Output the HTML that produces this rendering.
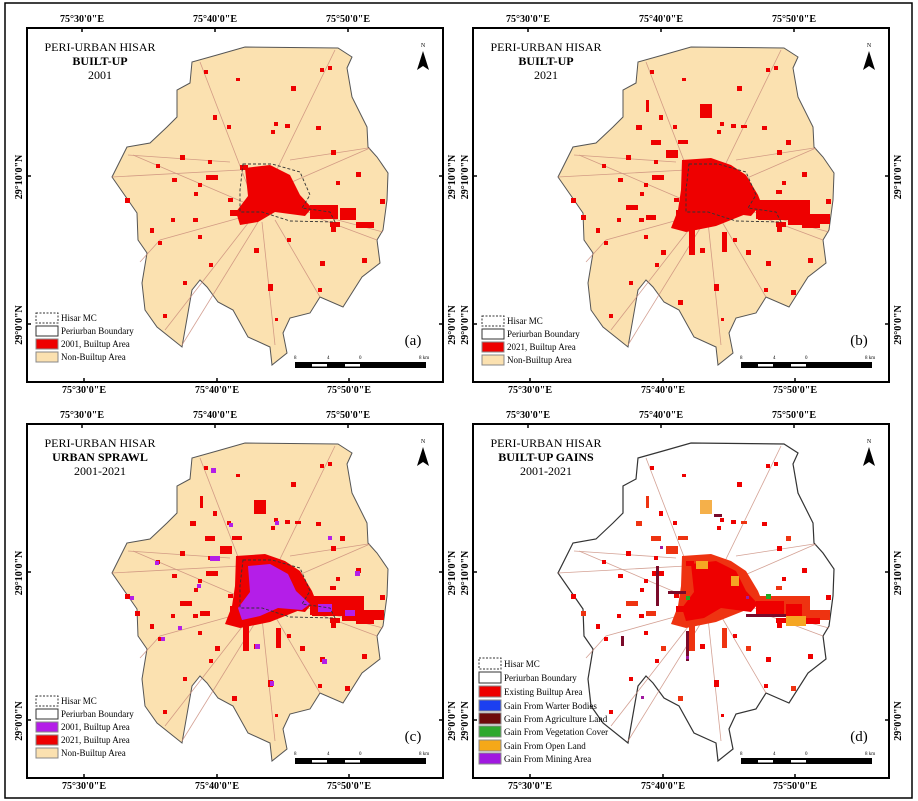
<!DOCTYPE html>
<html><head><meta charset="utf-8"><style>
html,body{margin:0;padding:0;background:#fff}
svg{display:block}
text{font-family:"Liberation Serif",serif}
</style></head><body>
<svg width="918" height="801" viewBox="0 0 918 801" xmlns="http://www.w3.org/2000/svg">
<defs>
<path id="shape" d="M245,47 L338,48 L352,57 L347,68 L352,97 L367,127 L368,147 L377,157 L388,173 L387,200 L383,230 L377,240 L380,263 L362,277 L343,307 L320,297 L310,313 L290,318 L283,333 L287,353 L272,365 L270,347 L248,337 L233,310 L218,302 L207,287 L200,280 L192,290 L182,347 L157,327 L145,310 L142,283 L147,253 L138,240 L137,213 L128,200 L112,177 L127,147 L150,143 L167,127 L177,117 L177,90 L190,83 L192,62 L217,55 Z"/>
<g id="roads" stroke="#c98a7a" stroke-width="0.8" fill="none" opacity="0.8">
<path d="M255,205 L200,62"/><path d="M262,200 L335,50"/><path d="M250,205 L133,155"/><path d="M240,170 L112,177"/><path d="M285,185 L370,148"/><path d="M300,210 L383,232"/><path d="M250,215 L160,240 L140,262"/><path d="M252,218 L165,330"/><path d="M258,222 L182,345"/><path d="M262,222 L275,345"/><path d="M275,220 L320,297"/><path d="M310,215 L377,240"/><path d="M128,155 L230,162"/><path d="M290,160 L368,148"/>
</g>
<path id="mc" d="M243,164 L272,164 L300,172 L310,195 L302,208 L330,212 L335,222 L290,221 L262,212 L240,212 L240,190 Z" fill="none" stroke="#333" stroke-width="0.9" stroke-dasharray="3,2"/>
<g id="b01">
<path d="M245,168 L270,165 L290,175 L300,195 L312,208 L305,216 L275,212 L258,222 L240,225 L236,212 L248,196 Z"/>
<rect x="310" y="205" width="28" height="14"/><rect x="340" y="208" width="16" height="12"/><rect x="356" y="222" width="18" height="6"/><rect x="330" y="222" width="10" height="5"/>
<rect x="204" y="70" width="4" height="4"/><rect x="236" y="78" width="4" height="3"/><rect x="291" y="86" width="5" height="5"/><rect x="320" y="68" width="4" height="4"/><rect x="328" y="66" width="4" height="4"/><rect x="213" y="115" width="4" height="5"/><rect x="227" y="125" width="4" height="4"/><rect x="274" y="122" width="4" height="4"/><rect x="285" y="124" width="5" height="4"/><rect x="316" y="126" width="5" height="4"/><rect x="271" y="130" width="4" height="4"/><rect x="331" y="150" width="5" height="5"/><rect x="180" y="155" width="5" height="5"/><rect x="156" y="164" width="4" height="4"/><rect x="208" y="160" width="4" height="4"/><rect x="356" y="172" width="5" height="5"/><rect x="172" y="178" width="5" height="4"/><rect x="198" y="183" width="4" height="4"/><rect x="336" y="181" width="4" height="4"/><rect x="125" y="198" width="5" height="5"/><rect x="194" y="192" width="4" height="4"/><rect x="228" y="198" width="5" height="4"/><rect x="171" y="218" width="4" height="4"/><rect x="193" y="218" width="5" height="4"/><rect x="150" y="228" width="4" height="5"/><rect x="198" y="235" width="4" height="4"/><rect x="158" y="241" width="4" height="4"/><rect x="254" y="248" width="5" height="5"/><rect x="287" y="238" width="4" height="4"/><rect x="209" y="263" width="4" height="4"/><rect x="320" y="261" width="5" height="5"/><rect x="362" y="258" width="5" height="5"/><rect x="268" y="284" width="5" height="7"/><rect x="163" y="314" width="4" height="4"/><rect x="183" y="281" width="4" height="4"/><rect x="318" y="288" width="4" height="4"/><rect x="275" y="318" width="3" height="3"/><rect x="331" y="227" width="5" height="5"/><rect x="380" y="199" width="5" height="5"/><rect x="230" y="210" width="10" height="6"/><rect x="206" y="175" width="12" height="5"/><rect x="240" y="165" width="8" height="5"/>
</g>
<g id="b21">
<rect x="254" y="104" width="12" height="14"/>
<path d="M236,160 L265,158 L285,165 L300,175 L312,195 L316,205 L300,214 L285,220 L270,226 L240,232 L225,228 L232,210 L235,190 Z"/>
<rect x="312" y="200" width="30" height="20"/><rect x="342" y="200" width="22" height="25"/><rect x="364" y="214" width="20" height="10"/>
<rect x="220" y="150" width="12" height="8"/><rect x="205" y="140" width="10" height="5"/><rect x="232" y="140" width="10" height="4"/><rect x="180" y="205" width="12" height="5"/><rect x="200" y="215" width="10" height="5"/><rect x="243" y="230" width="6" height="25"/><rect x="276" y="232" width="5" height="20"/><rect x="190" y="125" width="6" height="5"/><rect x="200" y="100" width="3" height="12"/><rect x="295" y="125" width="6" height="3"/><rect x="268" y="172" width="3" height="3"/><rect x="215" y="250" width="5" height="5"/><rect x="300" y="250" width="5" height="5"/><rect x="135" y="215" width="5" height="5"/><rect x="330" y="190" width="6" height="4"/><rect x="340" y="140" width="5" height="5"/><rect x="345" y="290" width="5" height="5"/><rect x="232" y="300" width="5" height="5"/>
</g>
<g id="purp">
<path d="M248,170 L270,168 L288,178 L296,195 L310,208 L302,214 L278,212 L260,220 L242,224 L238,212 L250,196 Z"/>
<rect x="318" y="208" width="14" height="8"/><rect x="345" y="214" width="10" height="6"/>
<rect x="211" y="72" width="5" height="5"/><rect x="275" y="125" width="4" height="4"/><rect x="229" y="127" width="4" height="4"/><rect x="328" y="140" width="4" height="4"/><rect x="155" y="165" width="4" height="4"/><rect x="355" y="175" width="5" height="5"/><rect x="197" y="188" width="4" height="4"/><rect x="130" y="200" width="4" height="4"/><rect x="178" y="230" width="4" height="4"/><rect x="255" y="248" width="5" height="5"/><rect x="322" y="263" width="5" height="5"/><rect x="270" y="285" width="4" height="5"/><rect x="161" y="241" width="4" height="4"/><rect x="210" y="160" width="10" height="5"/>
</g>
<g id="gain">
<rect x="250" y="165" width="12" height="8" fill="#f5a623"/><rect x="285" y="180" width="8" height="10" fill="#f5a623"/><rect x="340" y="220" width="20" height="10" fill="#f5a623"/><rect x="254" y="104" width="12" height="14" fill="#f5b04a"/><rect x="320" y="198" width="5" height="5" fill="#22aa22"/><rect x="240" y="200" width="4" height="4" fill="#22aa22"/>
<g fill="#7a0a2a"><rect x="210" y="170" width="3" height="40"/><rect x="222" y="195" width="18" height="3"/><rect x="300" y="218" width="40" height="3"/><rect x="268" y="118" width="8" height="3"/><rect x="240" y="235" width="3" height="30"/><rect x="175" y="240" width="3" height="10"/></g>
<g fill="#a01aa0"><rect x="214" y="150" width="3" height="3"/><rect x="300" y="200" width="3" height="3"/><rect x="240" y="260" width="3" height="3"/><rect x="195" y="300" width="3" height="3"/></g>
</g>
<g id="frame" font-size="10" font-weight="bold">
<rect x="27" y="28" width="416" height="354" fill="none" stroke="#000" stroke-width="2"/>
<text x="82" y="22" text-anchor="middle">75°30'0"E</text><text x="215" y="22" text-anchor="middle">75°40'0"E</text><text x="348" y="22" text-anchor="middle">75°50'0"E</text>
<text x="84" y="393" text-anchor="middle">75°30'0"E</text><text x="217" y="393" text-anchor="middle">75°40'0"E</text><text x="349" y="393" text-anchor="middle">75°50'0"E</text>
<text transform="translate(22,177) rotate(-90)" text-anchor="middle">29°10'0"N</text><text transform="translate(22,325) rotate(-90)" text-anchor="middle">29°0'0"N</text>
<text transform="translate(455,177) rotate(-90)" text-anchor="middle">29°10'0"N</text><text transform="translate(455,325) rotate(-90)" text-anchor="middle">29°0'0"N</text>
<g stroke="#000" stroke-width="1.5"><line x1="82" y1="28" x2="82" y2="32"/><line x1="215" y1="28" x2="215" y2="32"/><line x1="348" y1="28" x2="348" y2="32"/><line x1="84" y1="378" x2="84" y2="382"/><line x1="217" y1="378" x2="217" y2="382"/><line x1="349" y1="378" x2="349" y2="382"/><line x1="27" y1="176" x2="31" y2="176"/><line x1="27" y1="324" x2="31" y2="324"/><line x1="439" y1="176" x2="443" y2="176"/><line x1="439" y1="324" x2="443" y2="324"/></g>
<text x="423" y="47" font-size="6" font-weight="normal" text-anchor="middle">N</text>
<path d="M423,51 L417,70 L423,66 L429,70 Z" fill="#000"/>
<rect x="295" y="362" width="131" height="6" fill="#000"/><rect x="312" y="364" width="15" height="2.5" fill="#fff"/><rect x="345" y="364" width="15" height="2.5" fill="#fff"/>
<g font-size="5" font-weight="normal" font-family="Liberation Sans,sans-serif"><text x="294" y="359">8</text><text x="327" y="359">4</text><text x="359" y="359">0</text><text x="419" y="359">8 km</text></g>
</g>
</defs>
<rect x="5" y="3" width="907" height="795" fill="#fff" stroke="#000" stroke-width="1.5"/>

<g>
<use href="#shape" fill="#fbe1b0" stroke="#555" stroke-width="1"/>
<use href="#roads"/><use href="#b01" fill="#ee0000"/><use href="#mc"/>
<use href="#frame"/>
<g text-anchor="middle" font-size="12"><text x="100" y="51">PERI-URBAN HISAR</text><text x="100" y="65" font-weight="bold">BUILT-UP</text><text x="100" y="79">2001</text></g>
<text x="413" y="345" font-size="15" text-anchor="middle">(a)</text>
<g font-size="9"><rect x="36" y="313" width="22" height="10" fill="#fff" stroke="#333" stroke-dasharray="2,1.5"/><text x="61" y="321">Hisar MC</text>
<rect x="36" y="326" width="22" height="10" fill="#fff" stroke="#333"/><text x="61" y="334">Periurban Boundary</text>
<rect x="36" y="339" width="22" height="10" fill="#ee0000" stroke="#888"/><text x="61" y="347">2001, Builtup Area</text>
<rect x="36" y="352" width="22" height="10" fill="#fbe1b0" stroke="#888"/><text x="61" y="360">Non-Builtup Area</text></g>
</g>

<g transform="translate(446,0)">
<use href="#shape" fill="#fbe1b0" stroke="#555" stroke-width="1"/>
<use href="#roads"/><use href="#b01" fill="#ee0000"/><use href="#b21" fill="#ee0000"/><use href="#mc"/>
<use href="#frame"/>
<g text-anchor="middle" font-size="12"><text x="100" y="51">PERI-URBAN HISAR</text><text x="100" y="65" font-weight="bold">BUILT-UP</text><text x="100" y="79">2021</text></g>
<text x="413" y="345" font-size="15" text-anchor="middle">(b)</text>
<g font-size="9"><rect x="36" y="316" width="22" height="10" fill="#fff" stroke="#333" stroke-dasharray="2,1.5"/><text x="61" y="324">Hisar MC</text>
<rect x="36" y="329" width="22" height="10" fill="#fff" stroke="#333"/><text x="61" y="337">Periurban Boundary</text>
<rect x="36" y="342" width="22" height="10" fill="#ee0000" stroke="#888"/><text x="61" y="350">2021, Builtup Area</text>
<rect x="36" y="355" width="22" height="10" fill="#fbe1b0" stroke="#888"/><text x="61" y="363">Non-Builtup Area</text></g>
</g>

<g transform="translate(0,396)">
<use href="#shape" fill="#fbe1b0" stroke="#555" stroke-width="1"/>
<use href="#roads"/><use href="#b21" fill="#ee0000"/><use href="#b01" fill="#ee0000"/><use href="#purp" fill="#b41ee8"/><use href="#mc"/>
<use href="#frame"/>
<g text-anchor="middle" font-size="12"><text x="100" y="51">PERI-URBAN HISAR</text><text x="100" y="65" font-weight="bold">URBAN SPRAWL</text><text x="100" y="79">2001-2021</text></g>
<text x="413" y="345" font-size="15" text-anchor="middle">(c)</text>
<g font-size="9"><rect x="36" y="300" width="22" height="10" fill="#fff" stroke="#333" stroke-dasharray="2,1.5"/><text x="61" y="308">Hisar MC</text>
<rect x="36" y="313" width="22" height="10" fill="#fff" stroke="#333"/><text x="61" y="321">Periurban Boundary</text>
<rect x="36" y="326" width="22" height="10" fill="#b41ee8" stroke="#888"/><text x="61" y="334">2001, Builtup Area</text>
<rect x="36" y="339" width="22" height="10" fill="#ee0000" stroke="#888"/><text x="61" y="347">2021, Builtup Area</text>
<rect x="36" y="352" width="22" height="10" fill="#fbe1b0" stroke="#888"/><text x="61" y="360">Non-Builtup Area</text></g>
</g>

<g transform="translate(446,396)">
<use href="#shape" fill="#fff" stroke="#333" stroke-width="1.2"/>
<use href="#roads"/><use href="#b21" fill="#ee3311"/><use href="#b01" fill="#ee0000"/><use href="#gain"/>
<use href="#frame"/>
<g text-anchor="middle" font-size="12"><text x="100" y="51">PERI-URBAN HISAR</text><text x="100" y="65" font-weight="bold">BUILT-UP GAINS</text><text x="100" y="79">2001-2021</text></g>
<text x="413" y="345" font-size="15" text-anchor="middle">(d)</text>
<g font-size="9"><rect x="33" y="262" width="22" height="11" fill="#fff" stroke="#333" stroke-dasharray="2,1.5"/><text x="58" y="271">Hisar MC</text>
<rect x="33" y="276" width="22" height="11" fill="#fff" stroke="#333"/><text x="58" y="285">Periurban Boundary</text>
<rect x="33" y="290" width="22" height="11" fill="#ee0000" stroke="#888"/><text x="58" y="299">Existing Builtup Area</text>
<rect x="33" y="304" width="22" height="11" fill="#1c3ff0" stroke="#888"/><text x="58" y="313">Gain From Warter Bodies</text>
<rect x="33" y="317" width="22" height="11" fill="#6e0a0a" stroke="#888"/><text x="58" y="326">Gain From Agriculture Land</text>
<rect x="33" y="330" width="22" height="11" fill="#2ea82e" stroke="#888"/><text x="58" y="339">Gain From Vegetation Cover</text>
<rect x="33" y="344" width="22" height="11" fill="#f5a818" stroke="#888"/><text x="58" y="353">Gain From Open Land</text>
<rect x="33" y="357" width="22" height="11" fill="#a018e0" stroke="#888"/><text x="58" y="366">Gain From Mining Area</text></g>
</g>
</svg>
</body></html>
